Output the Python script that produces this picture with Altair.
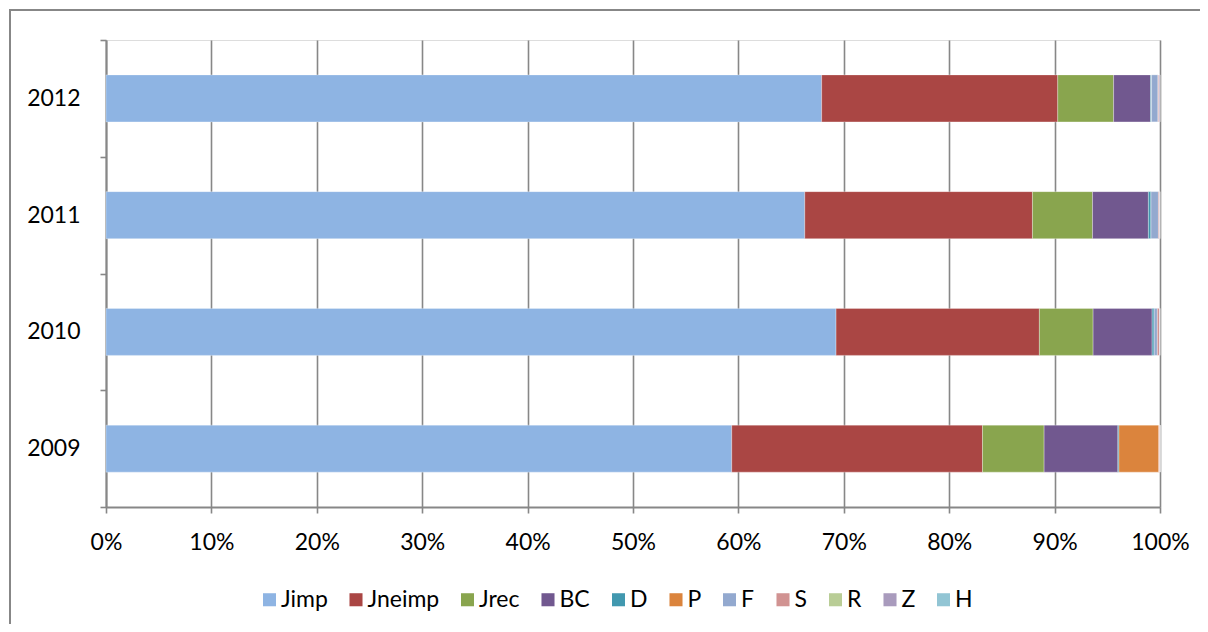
import altair as alt
import pandas as pd

years = ["2009", "2010", "2011", "2012"]
series = ["Jimp", "Jneimp", "Jrec", "BC", "D", "P", "F", "S", "R", "Z", "H"]
colors = ["#8EB4E3", "#AA4644", "#89A54E", "#71588F", "#4198AF", "#DB843D",
          "#93A9CF", "#D19392", "#B9CD96", "#A99BBD", "#92C5D4"]

v2009 = [59.4, 23.8, 5.85, 7.0, 0.1, 3.8, 0.0, 0.1, 0.0, 0.0, 0.0]
v2010 = [69.3, 19.3, 5.1, 5.6, 0.2, 0.0, 0.3, 0.2, 0.0, 0.05, 0.0]
v2011 = [66.3, 21.6, 5.7, 5.3, 0.25, 0.0, 0.7, 0.1, 0.0, 0.05, 0.0]
v2012 = [67.9, 22.4, 5.3, 3.5, 0.1, 0.0, 0.6, 0.1, 0.0, 0.1, 0.0]

rows = []
for y, vals in zip(years, [v2009, v2010, v2011, v2012]):
    for i, (s, v) in enumerate(zip(series, vals)):
        rows.append({"year": y, "series": s, "value": v, "order": i})
df = pd.DataFrame(rows)

FONT = "Lato"
GRID = "#878787"

bars = alt.Chart(df).mark_bar(size=47, stroke="white", strokeWidth=0.6, strokeOpacity=0.5).encode(
    x=alt.X("value:Q", stack="normalize",
            scale=alt.Scale(domain=[0, 1], nice=False),
            axis=alt.Axis(format=".0%", values=[i / 10 for i in range(11)],
                          title=None, grid=True, gridColor=GRID, gridWidth=1.6,
                          domainColor=GRID, domainWidth=2, tickColor=GRID, tickWidth=1.6,
                          tickSize=6, labelPadding=18, labelFontSize=23, labelFont=FONT,
                          labelColor="black", labelFlush=False)),
    y=alt.Y("year:N", sort="descending",
            scale=alt.Scale(paddingInner=0, paddingOuter=0),
            axis=alt.Axis(title=None, tickBand="extent", grid=False,
                          domainColor=GRID, domainWidth=2, tickColor=GRID, tickWidth=1.6,
                          tickSize=6, labelPadding=20, labelFontSize=23, labelFont=FONT,
                          labelColor="black")),
    color=alt.Color("series:N", sort=series,
                    scale=alt.Scale(domain=series, range=colors),
                    legend=alt.Legend(title=None, orient="none", direction="horizontal",
                                      legendX=152, legendY=548, symbolType="square",
                                      symbolSize=170, symbolStrokeWidth=0,
                                      labelFontSize=23, labelFont=FONT, labelColor="black",
                                      labelOffset=0, columnPadding=16.5, columns=11)),
    order=alt.Order("order:Q", sort="ascending"),
)

border = alt.Chart(alt.Data(values=[{}]))
left_line = border.mark_rect(color=GRID, strokeWidth=0).encode(
    x=alt.value(-97), x2=alt.value(-95), y=alt.value(-31), y2=alt.value(700))
top_line = border.mark_rect(color=GRID, strokeWidth=0).encode(
    x=alt.value(-97), x2=alt.value(1300), y=alt.value(-31), y2=alt.value(-29))

chart = alt.layer(bars, left_line, top_line).properties(
    width=1054, height=467,
    autosize=alt.AutoSizeParams(type="none"),
    padding={"left": 98, "top": 32, "right": 40, "bottom": 117},
).configure_view(stroke=None).configure(background="white")

chart.save("out.html", embed_options={"renderer": "svg", "actions": False})
